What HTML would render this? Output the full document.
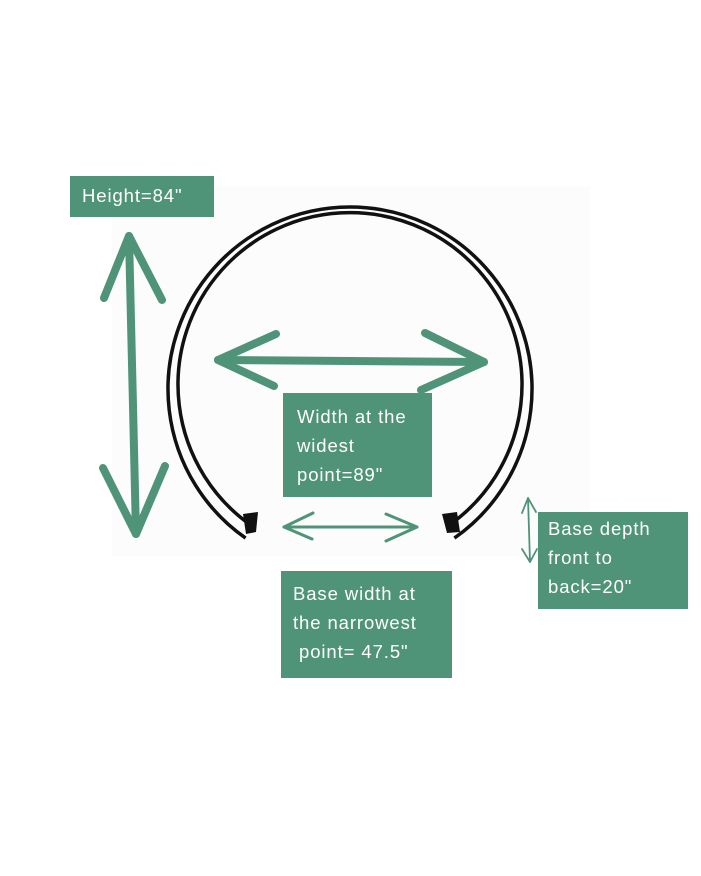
<!DOCTYPE html>
<html><head><meta charset="utf-8"><style>
body{margin:0;background:#fff;}
.b{position:absolute;background:#4f9478;color:#fff;font-family:"Liberation Sans",sans-serif;font-size:18.5px;line-height:29px;letter-spacing:0.9px;box-sizing:border-box;white-space:nowrap;}
</style></head><body>
<div style="position:relative;width:701px;height:876px;overflow:hidden;">
<svg width="701" height="876" style="position:absolute;left:0;top:0">
<rect x="112" y="186" width="478" height="370" fill="#fcfcfc"/>
<g fill="none" stroke="#111" stroke-width="3.5">
<path d="M245.6,538.1 A182,182 0 1 1 454.4,538.1"/>
<path d="M252,526 A172,172 0 1 1 448,526"/>
</g>
<polygon points="243,514 258,512 256,532 246,534" fill="#111"/>
<polygon points="442,514 457,512 460,532 447,533" fill="#111"/>
<g stroke="#4f9478" fill="none" stroke-linecap="round" stroke-linejoin="round">
<g stroke-width="8">
<path d="M129,236 L136,534"/>
<path d="M104,298 L129,236 L162,300"/>
<path d="M103,468 L136,534 L165,466"/>
<path d="M218,360 L484,362"/>
<path d="M276,334 L218,360 L274,386"/>
<path d="M425,333 L484,362 L421,390"/>
</g>
<g stroke-width="3">
<path d="M284,527 L417,527"/>
<path d="M313,513 L284,527 L312,539"/>
<path d="M386,514 L417,527 L386,541"/>
</g>
<g stroke-width="1.8">
<path d="M528,498 L530,562"/>
<path d="M522,513 L528,498 L536,512"/>
<path d="M522,549 L530,562 L537,549"/>
</g>
</g>
</svg>
<div class="b" style="left:70px;top:176px;width:144px;height:41px;padding:5px 0 0 12px;">Height=84"</div>
<div class="b" style="left:283px;top:393px;width:149px;height:104px;padding:9px 0 0 14px;">Width at the<br>widest<br>point=89"</div>
<div class="b" style="left:281px;top:571px;width:171px;height:107px;padding:8px 0 0 12px;">Base width at<br>the narrowest<br>&nbsp;point= 47.5"</div>
<div class="b" style="left:538px;top:512px;width:150px;height:97px;padding:2px 0 0 10px;">Base depth<br>front to<br>back=20"</div>
</div>
</body></html>
